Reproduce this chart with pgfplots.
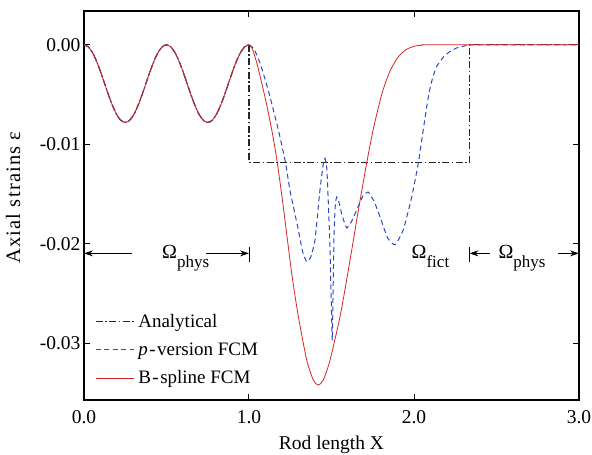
\documentclass[border=0pt]{standalone}
\usepackage{fontspec}
\setmainfont{Liberation Serif}
\usepackage{pgfplots}
\pgfplotsset{compat=1.18}
\usepackage{pgfplotstable}
\usetikzlibrary{arrows.meta}

\definecolor{fcmred}{RGB}{220,35,35}
\definecolor{fcmblue}{RGB}{45,70,200}
\definecolor{anagray}{RGB}{40,40,40}

% shared oscillation on the physical part 0..1
\pgfplotstableread{
x y
0.000 0
0.025 -0.00019
0.050 -0.00074
0.075 -0.00161
0.100 -0.00269
0.125 -0.00390
0.150 -0.00511
0.175 -0.00619
0.200 -0.00706
0.225 -0.00761
0.250 -0.00780
0.275 -0.00761
0.300 -0.00706
0.325 -0.00619
0.350 -0.00511
0.375 -0.00390
0.400 -0.00269
0.425 -0.00161
0.450 -0.00074
0.475 -0.00019
0.500 0
0.525 -0.00019
0.550 -0.00074
0.575 -0.00161
0.600 -0.00269
0.625 -0.00390
0.650 -0.00511
0.675 -0.00619
0.700 -0.00706
0.725 -0.00761
0.750 -0.00780
0.775 -0.00761
0.800 -0.00706
0.825 -0.00619
0.850 -0.00511
0.875 -0.00390
0.900 -0.00269
0.925 -0.00161
0.950 -0.00074
0.975 -0.00019
1.000 0
}\osc

\pgfplotstableread{
x y
1.000 0
1.000 -0.0118
2.336 -0.0118
2.336 0
3.000 0
}\analytical

\pgfplotstableread{
x y
1.000 0
1.030 -0.0004
1.067 -0.00184
1.100 -0.0036
1.127 -0.0052
1.178 -0.00855
1.222 -0.0119
1.248 -0.0146
1.299 -0.0186
1.325 -0.0208
1.350 -0.0218
1.375 -0.0213
1.400 -0.0196
1.430 -0.0146
1.450 -0.0120
1.461 -0.0114
1.472 -0.0125
1.481 -0.0160
1.490 -0.0200
1.498 -0.0255
1.505 -0.0297
1.510 -0.0245
1.515 -0.0195
1.522 -0.0163
1.531 -0.0153
1.545 -0.0158
1.565 -0.0172
1.592 -0.0184
1.620 -0.0178
1.653 -0.0166
1.690 -0.0152
1.723 -0.0148
1.760 -0.0158
1.794 -0.0173
1.840 -0.0194
1.885 -0.0201
1.935 -0.0186
1.986 -0.0153
2.026 -0.0119
2.056 -0.00855
2.087 -0.0052
2.110 -0.0035
2.137 -0.00218
2.180 -0.0012
2.218 -0.00067
2.260 -0.0003
2.320 -0.00007
2.350 0
3.000 0
}\pversion

\pgfplotstableread{
x y
1.000 0
1.020 -0.0004
1.047 -0.0018
1.075 -0.0037
1.107 -0.0060
1.143 -0.0090
1.172 -0.0119
1.208 -0.0163
1.259 -0.0230
1.299 -0.0273
1.350 -0.0317
1.390 -0.0337
1.420 -0.0342
1.450 -0.0337
1.491 -0.0317
1.552 -0.0273
1.592 -0.0236
1.622 -0.0207
1.662 -0.0167
1.713 -0.0119
1.753 -0.0085
1.804 -0.0050
1.850 -0.0028
1.900 -0.0013
1.950 -0.0005
2.000 -0.00015
2.050 -0.00003
2.100 0
3.000 0
}\bspline

\begin{document}
\begin{tikzpicture}
\begin{axis}[
  scale only axis, width=495pt, height=389pt,
  xmin=0, xmax=3, ymin=-0.0357, ymax=0.0034,
  clip=false, no markers,
  xtick={0,1,2,3}, xticklabels={0.0,1.0,2.0,3.0},
  ytick={-0.03,-0.02,-0.01,0}, yticklabels={-0.03,-0.02,-0.01,0.00},
  tick align=inside, major tick length=6pt,
  tick style={line width=1pt, black},
  axis line style={line width=1.3pt},
  ticklabel style={font=\fontsize{19.5}{19.5}\selectfont},
  xticklabel style={yshift=-7pt},
  /pgf/number format/assume math mode=true,
  xlabel={Rod length X},
  ylabel={Axial strains\hspace{6pt}ε},
  label style={font=\fontsize{19.5}{19.5}\selectfont},
  xlabel style={at={(axis description cs:0.5,-0.116)}, anchor=center},
  ylabel style={at={(axis description cs:-0.143,0.52)}, anchor=center,
    font=\fontsize{20.5}{20.5}\selectfont\addfontfeature{LetterSpace=6}},
  legend cell align=left,
  legend image code/.code={\draw[#1] (0pt,0pt) -- (38pt,0pt);},
  legend style={draw=none, fill=none, at={(axis description cs:0.022,0.228)},
    anchor=north west, font=\fontsize{19}{19}\selectfont,
    row sep=9pt, inner sep=0pt, nodes={inner ysep=2.5pt, inner xsep=4pt}},
]
% analytical
\addplot[anagray, line width=1.2pt, dash pattern=on 7pt off 2.5pt on 1.5pt off 2.5pt, forget plot, smooth, tension=0.5] table {\osc};
\addplot[anagray, line width=1.2pt, dash pattern=on 7pt off 2.5pt on 1.5pt off 2.5pt] table {\analytical};
\addlegendentry{Analytical}
% p-version FCM
\addplot[fcmblue, line width=1pt, dash pattern=on 5pt off 3.5pt, forget plot, smooth, tension=0.5] table {\osc};
\addplot[fcmblue, line width=1pt, dash pattern=on 5pt off 3.5pt, smooth, tension=0.3] table {\pversion};
\addlegendentry{\textit{p}\kern1.5pt-\kern1.5pt version FCM}
% B-spline FCM
\addplot[fcmred, line width=0.8pt, forget plot, smooth, tension=0.5] table {\osc};
\addplot[fcmred, line width=0.8pt, smooth, tension=0.4] table {\bspline};
\addlegendentry{B\kern1.5pt-\kern1.5pt spline FCM}

% domain annotations
\tikzset{dimarr/.style={-{Stealth[length=9pt,width=6pt]}, line width=0.8pt, black}}
\draw[dimarr] (axis cs:0.289,-0.02096) -- (axis cs:0.0,-0.02096);
\draw[dimarr] (axis cs:0.739,-0.02096) -- (axis cs:1.0,-0.02096);
\draw[line width=0.8pt] (axis cs:1.0,-0.0203) -- (axis cs:1.0,-0.0218);
\node[anchor=base west, inner sep=0pt] at (axis cs:0.473,-0.02146)
  {\fontsize{20}{20}\selectfont Ω\raisebox{-9pt}{\fontsize{17}{17}\selectfont phys}};
\node[anchor=base west, inner sep=0pt] at (axis cs:1.985,-0.02146)
  {\fontsize{20}{20}\selectfont Ω\raisebox{-9pt}{\fontsize{17}{17}\selectfont fict}};
\draw[line width=0.8pt] (axis cs:2.336,-0.0203) -- (axis cs:2.336,-0.0218);
\draw[dimarr] (axis cs:2.461,-0.02096) -- (axis cs:2.336,-0.02096);
\node[anchor=base west, inner sep=0pt] at (axis cs:2.511,-0.02146)
  {\fontsize{20}{20}\selectfont Ω\raisebox{-9pt}{\fontsize{17}{17}\selectfont phys}};
\draw[dimarr] (axis cs:2.873,-0.02096) -- (axis cs:3.0,-0.02096);

\coordinate (bbl) at (rel axis cs:0,0);
\coordinate (btr) at (rel axis cs:1,1);
\end{axis}
\pgfresetboundingbox
\useasboundingbox ([xshift=-84pt,yshift=-54pt]bbl) rectangle ([xshift=13pt,yshift=11pt]btr);
\end{tikzpicture}
\end{document}
